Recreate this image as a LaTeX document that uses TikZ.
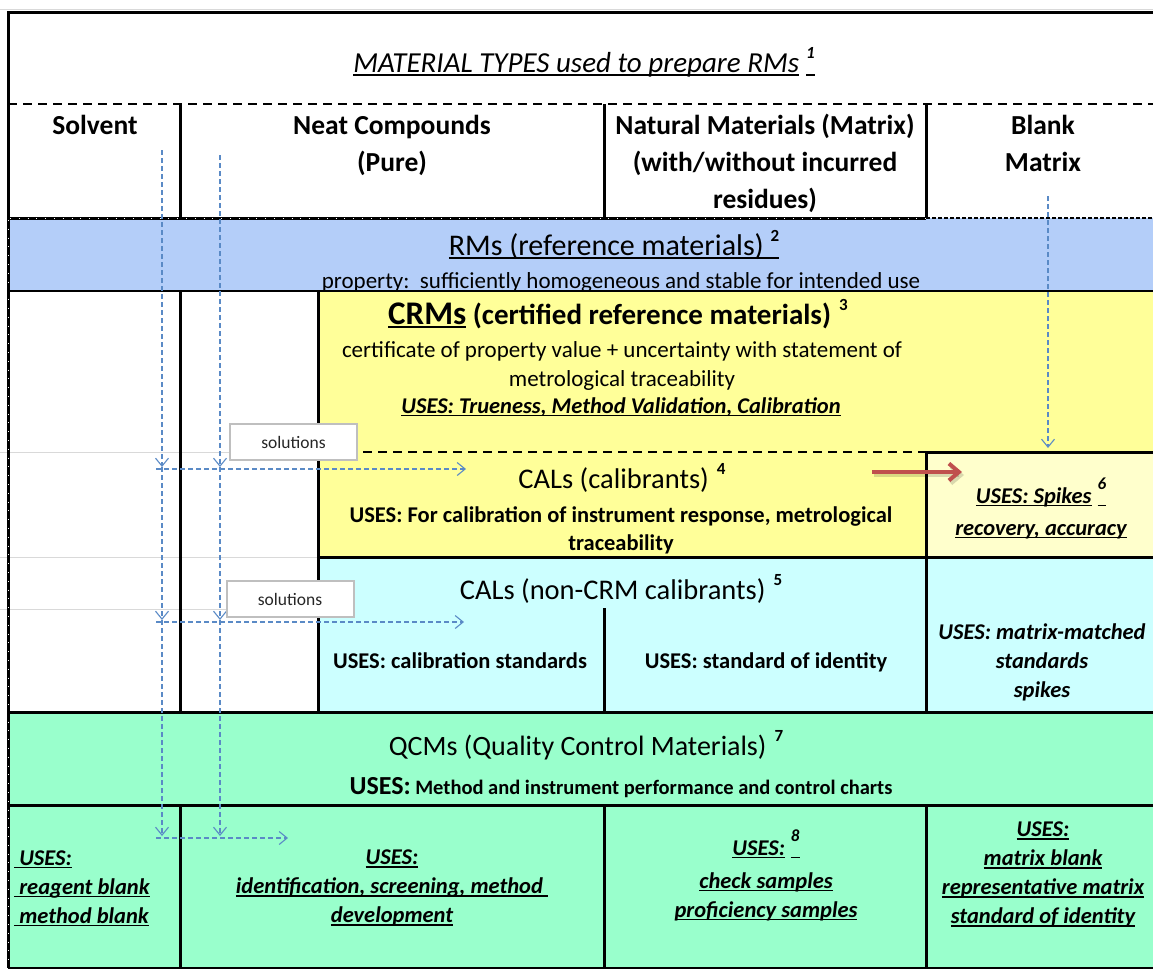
\documentclass[tikz,border=0pt]{standalone}
\usepackage{fontspec}
\setmainfont{Carlito}
\usetikzlibrary{arrows.meta}

\definecolor{rmblue}{HTML}{B4CEF9}
\definecolor{crmyellow}{HTML}{FFFF99}
\definecolor{spikeyellow}{HTML}{FFFFCC}
\definecolor{calcyan}{HTML}{CCFFFF}
\definecolor{qcgreen}{HTML}{99FFCC}
\definecolor{flowblue}{HTML}{5A8AC6}
\definecolor{spikered}{HTML}{C0504D}
\definecolor{gridgray}{HTML}{D9D9D9}
\definecolor{solgray}{HTML}{BFBFBF}

% underline at a fixed depth below the baseline
\newcommand{\uln}[1]{\leavevmode\setbox0=\hbox{#1}\rlap{\rule[-0.13em]{\wd0}{0.06em}}\box0\relax}
% footnote number, raised and not affecting line height
\newcommand{\sups}[1]{\smash{\raisebox{14pt}{\fontsize{17}{17}\selectfont\bfseries #1}}}

\tikzset{
  every node/.style={inner sep=0pt},
  cell/.style={align=center},
  hdr/.style={cell, font=\fontsize{27.5}{37}\selectfont\bfseries},
  rule/.style={line width=3pt, black},
  midrule/.style={line width=2.5pt, black},
  dashrule/.style={line width=2.5pt, black, dash pattern=on 9pt off 6pt},
  grid/.style={gridgray, line width=0.8pt},
  flow/.style={flowblue, line width=1.1pt, dash pattern=on 5pt off 3pt,
    -{Straight Barb[length=8pt,width=13pt,line width=1.1pt]}},
  spikearrow/.style={spikered, line width=4pt,
    -{Straight Barb[length=10pt,width=17pt,line width=4pt]}},
  solbox/.style={draw=solgray, line width=2pt, fill=white,
    minimum width=127pt, minimum height=36pt,
    font=\fontsize{17.5}{20}\selectfont, text=black!85},
  small/.style={font=\fontsize{22.5}{28}\selectfont\bfseries},
  smallit/.style={font=\fontsize{22.5}{29}\selectfont\bfseries\itshape},
  big/.style={font=\fontsize{28.5}{34}\selectfont},
}

\begin{document}
\begin{tikzpicture}[x=1pt,y=-1pt]
\useasboundingbox (0,0) rectangle (1153,970);

% ---- cell fills
\fill[rmblue] (8,218) rectangle (1153,291);
\fill[crmyellow] (318,291) rectangle (1153,452);
\fill[crmyellow] (318,452) rectangle (926,557);
\fill[spikeyellow] (926,452) rectangle (1153,557);
\fill[calcyan] (318,557) rectangle (1153,712);
\fill[qcgreen] (8,712) rectangle (1153,968);

% ---- faint sheet grid
\draw[grid] (0,9) -- (1153,9);
\draw[grid] (0,452) -- (318,452);
\draw[grid] (0,557) -- (318,557);
\draw[grid] (0,609) -- (318,609);

% ---- borders
\draw[rule] (1153,12) -- (8,12) -- (8,968);
\draw[white, line width=0.8pt, dash pattern=on 0.8pt off 8pt] (8,220) -- (8,968);
\draw[dashrule] (8,104) -- (1153,104);
\draw[rule] (180,104) -- (180,218);
\draw[rule] (604,104) -- (604,218);
\draw[rule] (926,104) -- (926,218);
\draw[rule] (8,218) -- (926,218);
\draw[white, line width=0.8pt, dash pattern=on 0.8pt off 8pt] (10,218) -- (926,218);
\draw[black, line width=1.5pt, dash pattern=on 4pt off 2pt] (926,218) -- (1153,218);
\draw[midrule] (8,291) -- (1153,291);
\draw[rule] (180,291) -- (180,712);
\draw[rule] (318,291) -- (318,712);
\draw[dashrule] (318,452) -- (926,452);
\draw[rule] (926,452) -- (1153,452);
\draw[rule] (926,452) -- (926,712);
\draw[rule] (318,557) -- (1153,557);
\draw[rule] (604,608) -- (604,712);
\draw[rule] (8,712) -- (1153,712);
\draw[rule] (8,805) -- (1153,805);
\draw[rule] (180,805) -- (180,968);
\draw[rule] (604,805) -- (604,968);
\draw[rule] (926,805) -- (926,968);
\draw[midrule] (8,968) -- (1153,968);

% ---- title and material types
\node[anchor=base, font=\fontsize{29}{34}\selectfont\itshape] (title) at (584,72)
  {\uln{MATERIAL TYPES used to prepare RMs}\hspace{7pt}\uln{\sups{1}}};
\node[hdr, anchor=base] (solvent) at (95,134.5) {Solvent};
\node[hdr] (neat) at (392,145.6) {\strut Neat Compounds\\(Pure)\strut};
\node[hdr] (natural) at (765,164.1)
  {\strut Natural Materials (Matrix)\\(with/without incurred\\residues)\strut};
\node[hdr] (blank) at (1043,145.6) {\strut Blank\\Matrix\strut};

% ---- reference materials
\node[anchor=base, font=\fontsize{30}{36}\selectfont] (rms) at (614,255)
  {\uln{RMs (reference materials)\ \sups{2}}};
\node[anchor=base, font=\fontsize{23}{28}\selectfont] (rmprop) at (621,288)
  {property:\ \ sufficiently homogeneous and stable for intended use};

% ---- certified reference materials
\node[anchor=base, font=\fontsize{29}{34}\selectfont\bfseries] (crms) at (618,324)
  {\uln{\fontsize{33}{36}\selectfont CRMs} (certified reference materials)\hspace{8pt}\sups{3}};
\node[cell, font=\fontsize{23}{29}\selectfont] (crmdesc) at (622,365.7)
  {\strut certificate of property value + uncertainty with statement of\\metrological traceability\strut};
\node[anchor=base, font=\fontsize{22.5}{28}\selectfont\bfseries\itshape] (crmuses) at (621,413)
  {\uln{USES: Trueness, Method Validation, Calibration}};

% ---- calibrants
\node[anchor=base, big] (cals) at (622,488)
  {CALs (calibrants)\hspace{8pt}\sups{4}};
\node[cell, small] (caluses) at (621,530.4)
  {\strut USES: For calibration of instrument response, metrological\\traceability\strut};
\node[cell, font=\fontsize{22.5}{32}\selectfont\bfseries\itshape] (spikes) at (1041,512.6)
  {\strut\uln{USES: Spikes}\hspace{6pt}\uln{\sups{6}}\\\uln{recovery, accuracy}\strut};

% ---- non-CRM calibrants
\node[anchor=base, big] (noncrm) at (621,599)
  {CALs (non-CRM calibrants)\hspace{8pt}\sups{5}};
\node[anchor=base, small] (calstd) at (460,668) {USES: calibration standards};
\node[anchor=base, small] (stdid) at (766,668) {USES: standard of identity};
\node[cell, smallit] (matched) at (1042,662.2)
  {\strut USES: matrix-matched\\standards\\spikes\strut};

% ---- quality control materials
\node[anchor=base, font=\fontsize{28}{34}\selectfont] (qcm) at (586,755)
  {QCMs (Quality Control Materials)\hspace{8pt}\sups{7}};
\node[anchor=base, font=\fontsize{20.5}{26}\selectfont\bfseries] (qcmuses) at (621,794)
  {{\fontsize{26}{30}\selectfont USES:} Method and instrument performance and control charts};
\node[cell, align=left, anchor=west, smallit] (qsolvent) at (14,888.2)
  {\strut\uln{\ USES:}\\\uln{\ reagent blank}\\\uln{\ method blank}\strut};
\node[cell, smallit] (qneat) at (392,887.8)
  {\strut\uln{USES:}\\\uln{identification, screening, method\ }\\\uln{development}\strut};
\node[cell, smallit] (qnatural) at (766,880.2)
  {\strut\uln{USES:}\hspace{6pt}\uln{\sups{8}}\\[4pt]\uln{check samples}\\\uln{proficiency samples}\strut};
\node[cell, smallit] (qblank) at (1043,874.3)
  {\strut\uln{USES:}\\\uln{matrix blank}\\\uln{representative matrix}\\\uln{standard of identity}\strut};

% ---- preparation flows
\coordinate (sv0) at (162,150);
\coordinate (sv1) at (162,467);
\coordinate (sv2) at (162,620);
\coordinate (sv3) at (162,836);
\coordinate (nc0) at (220,155);
\coordinate (nc1) at (220,467);
\coordinate (nc2) at (220,620);
\coordinate (nc3) at (220,836);
\coordinate (h1s) at (156,469);
\coordinate (h1e) at (466,469);
\coordinate (h2s) at (156,622);
\coordinate (h2e) at (464,622);
\coordinate (h3s) at (156,838);
\coordinate (h3e) at (288,838);
\coordinate (bm0) at (1048,196);
\coordinate (bm1) at (1048,448);

\draw[flow] (sv0) -- (sv1);
\draw[flow] (sv1) -- (sv2);
\draw[flow] (sv2) -- (sv3);
\draw[flow] (nc0) -- (nc1);
\draw[flow] (nc1) -- (nc2);
\draw[flow] (nc2) -- (nc3);
\draw[flow] (h1s) -- (h1e);
\draw[flow] (h2s) -- (h2e);
\draw[flow] (h3s) -- (h3e);
\draw[flow] (bm0) -- (bm1);

\node[solbox] (sol1) at (293.5,442) {solutions};
\node[solbox] (sol2) at (290,599) {solutions};

% ---- calibrants used as spikes
\coordinate (rs) at (872,472);
\coordinate (re) at (962,472);
\draw[spikearrow, black, opacity=0.15, transform canvas={shift={(2pt,-3pt)}}] (rs) -- (re);
\draw[spikearrow] (rs) -- (re);
\end{tikzpicture}
\end{document}
